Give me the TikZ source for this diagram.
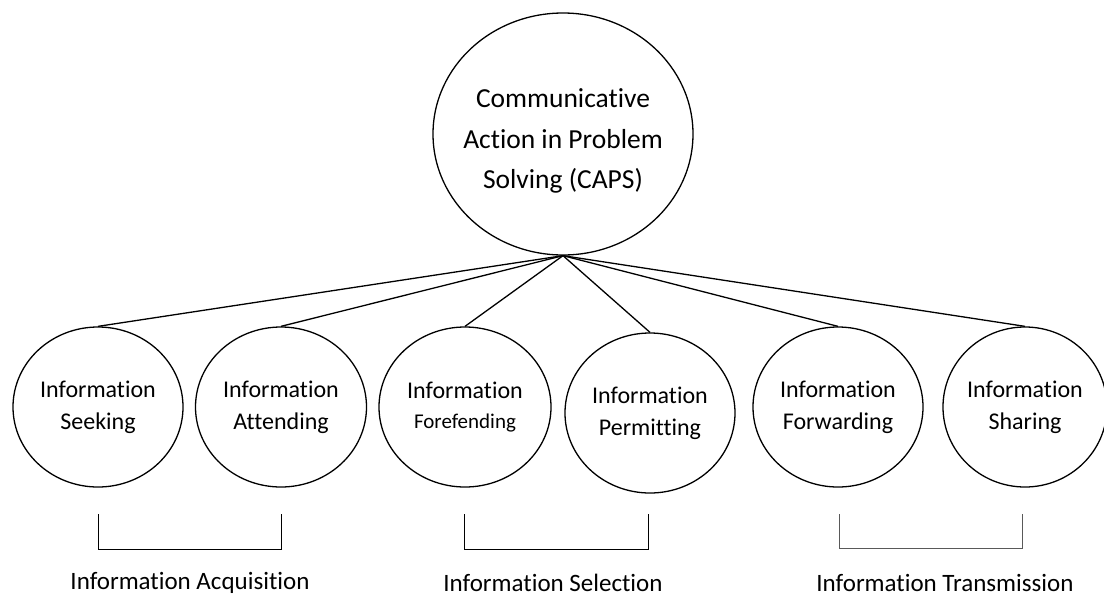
\documentclass[tikz,border=0pt]{standalone}
\usepackage{fontspec}
\setmainfont{Carlito}[Ligatures=NoCommon]
\usetikzlibrary{shapes.geometric}
\tikzset{
  circ/.style={draw, ellipse, line width=1.3pt, inner sep=0pt, align=center,
    font=\fontsize{24}{32}\selectfont},
  conn/.style={line width=1.3pt},
  brack/.style={line width=1pt},
  grplabel/.style={font=\fontsize{25}{30}\selectfont, inner sep=0pt}
}
\begin{document}
\begin{tikzpicture}[x=1pt,y=-1pt]
\useasboundingbox (0,0) rectangle (1104,598);
\node[circ, minimum width=260pt, minimum height=242pt] (caps) at (563,134) {};
\node[align=center, inner sep=0pt, font=\fontsize{27.5}{40.5}\selectfont] (capstext) at (563,141)
  {Communicative\\Action in Problem\\Solving (CAPS)};
\node[circ, minimum width=170pt, minimum height=160pt] (seek) at (98,407) {Information\\Seeking};
\node[circ, minimum width=171pt, minimum height=160pt] (att) at (281,407) {Information\\Attending};
\node[circ, minimum width=172pt, minimum height=160pt] (fore) at (465,407)
  {Information\\[-2pt]{\fontsize{21}{24}\selectfont Forefending}};
\node[circ, minimum width=170pt, minimum height=160pt] (perm) at (650,413) {Information\\Permitting};
\node[circ, minimum width=170pt, minimum height=160pt] (forw) at (838,407) {Information\\Forwarding};
\node[circ, minimum width=164pt, minimum height=160pt] (share) at (1025,407) {Information\\Sharing};
\foreach \n in {seek,att,fore,perm,forw,share}
  \draw[conn] (caps.south) -- (\n.north);
% brackets
\coordinate (a1) at (98,514); \coordinate (a2) at (98,549);
\coordinate (a3) at (281,549); \coordinate (a4) at (281,514);
\coordinate (s1) at (464,514); \coordinate (s2) at (464,549);
\coordinate (s3) at (648,549); \coordinate (s4) at (648,514);
\coordinate (t1) at (839,514); \coordinate (t2) at (839,548);
\coordinate (t3) at (1022,548); \coordinate (t4) at (1022,514);
\draw[brack] (a1) -- (a2) -- (a3) -- (a4);
\draw[brack] (s1) -- (s2) -- (s3) -- (s4);
\draw[brack, draw=black!65] (t1) -- (t2) -- (t3) -- (t4);
\node[grplabel] (acq) at (190,583) {Information Acquisition};
\node[grplabel] (sel) at (553,583) {Information Selection};
\node[grplabel] (trans) at (945,583) {Information Transmission};
\end{tikzpicture}
\end{document}
